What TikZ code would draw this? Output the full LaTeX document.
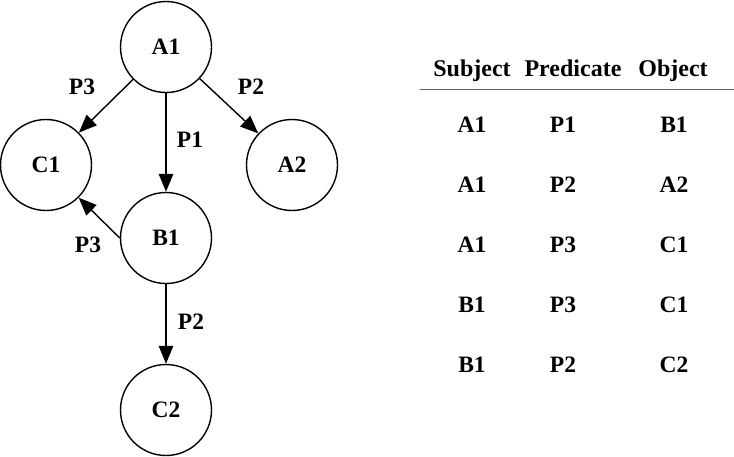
\documentclass[tikz,border=0pt]{standalone}
\usepackage{fontspec}
\setmainfont{Liberation Serif}
\usetikzlibrary{arrows.meta,positioning}
\tikzset{
  rnode/.style={circle, draw, line width=1.4pt, minimum size=91pt, inner sep=0pt, font=\fontsize{23.5}{26}\selectfont\bfseries},
  elbl/.style={font=\fontsize{23.5}{26}\selectfont\bfseries},
  cell/.style={font=\fontsize{23.5}{26}\selectfont\bfseries},
  hcell/.style={font=\fontsize{24}{28}\selectfont\bfseries, text height=17pt, text depth=5pt},
  arr/.style={line width=1.4pt, -{Triangle[length=18pt,width=14.5pt]}},
}

\begin{document}
\begin{tikzpicture}[x=1pt,y=-1pt]
  \useasboundingbox (0,0) rectangle (734,456);

  %% === RDF graph (left) ===
  \node[rnode] (A1) at (166,47) {A1};
  \node[rnode] (C1) at (46,165) {C1};
  \node[rnode] (A2) at (292,165) {A2};
  \node[rnode] (B1) at (166,238) {B1};
  \node[rnode] (C2) at (166,410) {C2};

  % Edges
  \draw[arr] (A1) -- (C1);
  \draw[arr] (A1) -- (A2);
  \draw[arr] (A1) -- (B1);
  \draw[arr] (B1.west) -- (C1.-45);
  \draw[arr] (B1) -- (C2);

  % Edge labels
  \node[elbl] (lA1C1) at (82,87) {P3};
  \node[elbl] (lA1A2) at (251,87) {P2};
  \node[elbl] (lA1B1) at (190,140) {P1};
  \node[elbl] (lB1C1) at (88,245) {P3};
  \node[elbl] (lB1C2) at (191,322) {P2};

  %% === Triple table (right) ===
  \node[hcell] (hS) at (472,70) {Subject};
  \node[hcell] (hP) at (573,70) {Predicate};
  \node[hcell] (hO) at (673,70) {Object};
  \coordinate (rl) at (420,89);
  \coordinate (rr) at (734,89);
  \draw[gray!80!black, line width=0.9pt] (rl) -- (rr);

  % Rows
  \foreach \s/\p/\o [count=\i] in {A1/P1/B1, A1/P2/A2, A1/P3/C1, B1/P3/C1, B1/P2/C2} {
    \node[cell] (s\i) at (472,65+60*\i) {\s};
    \node[cell] (p\i) at (563,65+60*\i) {\p};
    \node[cell] (o\i) at (674,65+60*\i) {\o};
  }
\end{tikzpicture}
\end{document}
